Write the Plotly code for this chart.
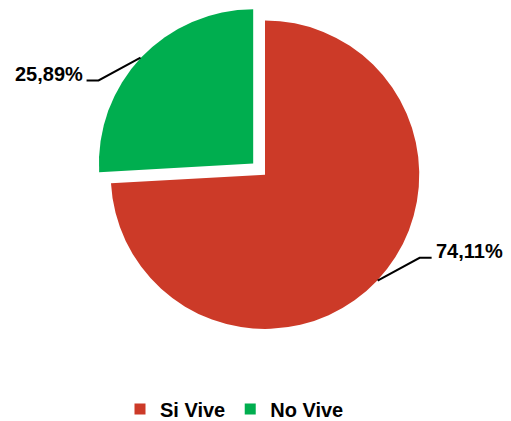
import math
import plotly.graph_objects as go

# Data
labels = ["Si Vive", "No Vive"]
values = [74.11, 25.89]
colors = ["#CC3A28", "#00AE4F"]
pulls = [0, 0.105]

W, H = 511, 421
OFF = 8  # html body margin, compensate so window pixels match the design
# pie geometry in window pixels (center of un-pulled pie and its radius)
cx, cy, r = 265, 175.5, 155


def px(x):
    return (x - OFF) / W


def py(y):
    return 1 - (y - OFF) / H


total = sum(values)
fig = go.Figure()

# one pie per slice so that the pulled slice does not shrink the whole pie
start = 0.0
label_geo = []
for i, v in enumerate(values):
    frac = v / total
    mid = (start + frac / 2) * 2 * math.pi
    start += frac
    off = pulls[i] * r
    ox = cx + off * math.sin(mid)
    oy = cy - off * math.cos(mid)
    label_geo.append((mid, ox, oy))
    slice_colors = [c if j == i else "rgba(0,0,0,0)" for j, c in enumerate(colors)]
    fig.add_trace(go.Pie(
        labels=labels,
        values=values,
        marker=dict(colors=slice_colors, line=dict(width=0)),
        sort=False,
        direction="clockwise",
        rotation=0,
        textinfo="none",
        hoverinfo="label+percent",
        showlegend=False,
        domain=dict(x=[px(ox - r), px(ox + r)], y=[py(oy + r), py(oy - r)]),
    ))

# legend entries
for lab, col in zip(labels, colors):
    fig.add_trace(go.Scatter(
        x=[None], y=[None], mode="markers", name=f"<b>{lab}</b>",
        marker=dict(symbol="square", size=11, color=col),
    ))

# Leader lines and percentage labels computed from slice angles
shapes = []
annotations = []
for v, (mid, ox, oy) in zip(values, label_geo):
    ex = ox + r * math.sin(mid)
    ey = oy - r * math.cos(mid)
    side = 1 if math.sin(mid) >= 0 else -1
    dy = -23 if math.cos(mid) < 0 else 23
    bx, by = ex + side * 42, ey + dy
    hx = bx + side * 12
    shapes.append(dict(
        type="path", xref="paper", yref="paper",
        path=f"M{px(ex)},{py(ey)} L{px(bx)},{py(by)} L{px(hx)},{py(by)}",
        line=dict(color="black", width=2),
    ))
    txt = f"{v:.2f}".replace(".", ",") + "%"
    annotations.append(dict(
        x=px(hx + side * 2), y=py(by - 7), xref="paper", yref="paper",
        text=f"<b>{txt}</b>", showarrow=False,
        xanchor="left" if side > 0 else "right", yanchor="middle",
        font=dict(family="Liberation Sans, Arial", size=20, color="black"),
    ))

fig.update_layout(
    width=W, height=H,
    margin=dict(l=0, r=0, t=0, b=0),
    paper_bgcolor="white",
    plot_bgcolor="white",
    xaxis=dict(visible=False),
    yaxis=dict(visible=False),
    shapes=shapes,
    annotations=annotations,
    showlegend=True,
    legend=dict(
        orientation="h",
        x=px(120), xanchor="left",
        y=py(411), yanchor="middle",
        font=dict(family="Liberation Sans, Arial", size=20, color="black"),
        itemclick=False,
    ),
)

fig.write_html("out.html")
